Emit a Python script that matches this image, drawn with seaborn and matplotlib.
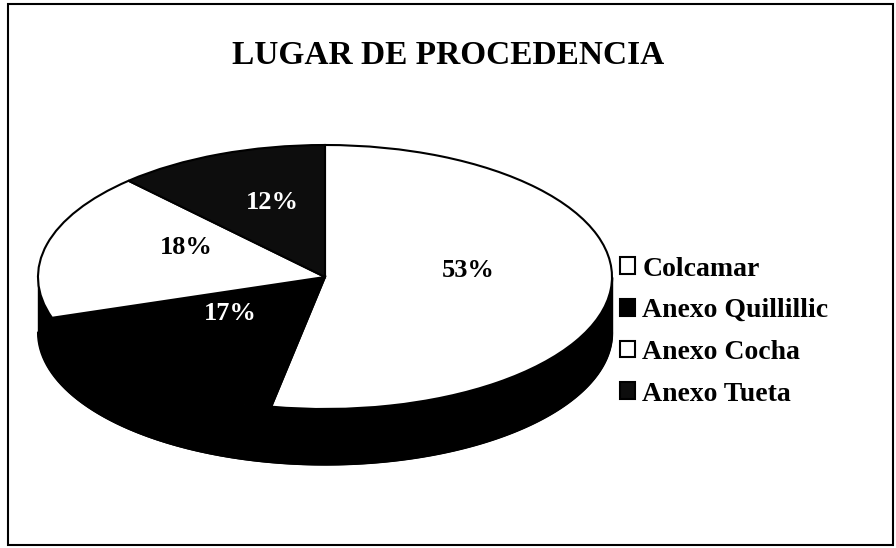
import numpy as np
import seaborn as sns
import matplotlib.pyplot as plt
from matplotlib.patches import Rectangle

# data
lugares = ['Colcamar', 'Anexo Quillillic', 'Anexo Cocha', 'Anexo Tueta']
porcentajes = [53, 17, 18, 12]
colores = ['white', 'black', 'white', '#0d0d0d']
color_texto = ['black', 'white', 'black', 'white']

sns.set_style('white')
plt.rcParams['font.family'] = ['Liberation Serif', 'DejaVu Serif']
plt.rcParams['text.color'] = 'black'

fig = plt.figure(figsize=(8.96, 5.48), dpi=100)
ax = fig.add_axes([0, 0, 1, 1])

# elliptical top: radius 1 -> 287 px wide, 132 px tall, center at (325, 277) px
xl = (-325 / 287, (896 - 325) / 287)
yl = (-(548 - 277) / 132, 277 / 132)

# side wall of the 3d pie
depth = 0.42
t = np.linspace(np.pi, 2 * np.pi, 300)
ax.fill_between(np.cos(t), np.sin(t) - depth, np.sin(t), color='black', zorder=1)
ax.plot(np.cos(t), np.sin(t) - depth, color='black', lw=1.5, zorder=1)

wedges, textos, pct = ax.pie(
    porcentajes, colors=colores, startangle=90, counterclock=False,
    autopct='%1.0f%%', pctdistance=0.5,
    wedgeprops=dict(edgecolor='black', linewidth=1.5),
    textprops=dict(fontsize=19, fontweight='bold'),
)
for w in wedges:
    w.set_zorder(2)
for p, c in zip(pct, color_texto):
    p.set_color(c)
    p.set_zorder(3)
    x, y = p.get_position()
    p.set_position((x, y + 0.1))

ax.set_aspect('auto')
ax.set_xlim(*xl)
ax.set_ylim(*yl)
ax.axis('off')

fig.text(0.5, 1 - 55 / 548, 'LUGAR DE PROCEDENCIA', ha='center', va='center',
         fontsize=24, fontweight='bold', color='black')

leg = fig.legend(wedges, lugares, loc='center left', bbox_to_anchor=(0.692, 0.395),
                 frameon=False, prop=dict(size=20, weight='bold'),
                 handlelength=0.55, handleheight=0.55, handletextpad=0.25,
                 labelspacing=0.6, borderpad=0, borderaxespad=0)
for txt in leg.get_texts():
    txt.set_color('black')

fig.patches.append(Rectangle((8 / 896, 3 / 548), 885 / 896, 541 / 548,
                             transform=fig.transFigure, fill=False,
                             edgecolor='black', linewidth=1.5))

fig.savefig('out.png', dpi=100)
